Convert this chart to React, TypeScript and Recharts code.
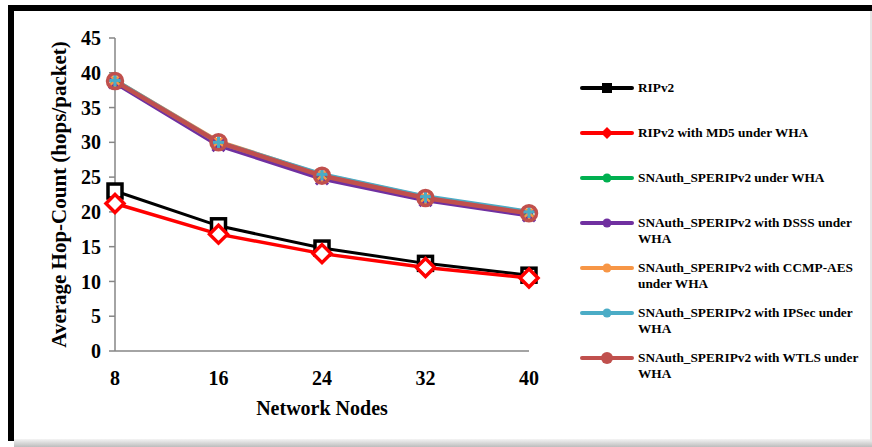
import React from "react";
import { LineChart, Line, XAxis, YAxis } from "recharts";

const nodes = [8, 16, 24, 32, 40];
const yTicks = [0, 5, 10, 15, 20, 25, 30, 35, 40, 45];

const ripv2 = [23.0, 18.0, 14.8, 12.6, 10.9];
const ripv2Md5 = [21.2, 16.8, 14.0, 12.0, 10.5];
const snauth = [38.8, 29.9, 25.2, 22.0, 19.8];
const snauthDsss = [38.6, 29.6, 24.8, 21.7, 19.5];
const snauthCcmp = [38.9, 30.1, 25.3, 22.1, 19.9];
const snauthIpsec = [38.9, 30.0, 25.4, 22.2, 20.0];
const snauthWtls = [38.8, 30.0, 25.2, 22.0, 19.8];

const data = nodes.map((n, i) => ({
  n,
  ripv2: ripv2[i],
  md5: ripv2Md5[i],
  snauth: snauth[i],
  dsss: snauthDsss[i],
  ccmp: snauthCcmp[i],
  ipsec: snauthIpsec[i],
  wtls: snauthWtls[i],
}));

const FONT = "'Liberation Serif', 'Times New Roman', serif";

// marker shapes, drawn around (0,0)
const shape = (kind: string, color: string) => {
  switch (kind) {
    case "square":
      return <rect x={-7} y={-7} width={14} height={14} fill="#fff" stroke={color} strokeWidth={3.5} />;
    case "diamond":
      return <polygon points="0,-9 9,0 0,9 -9,0" fill="#fff" stroke={color} strokeWidth={3.5} />;
    case "triangle":
      return <polygon points="0,-7 7,6 -7,6" fill={color} />;
    case "x":
      return (
        <g stroke={color} strokeWidth={3}>
          <line x1={-6} y1={-6} x2={6} y2={6} />
          <line x1={-6} y1={6} x2={6} y2={-6} />
        </g>
      );
    case "star":
      return (
        <g stroke={color} strokeWidth={2.5}>
          <line x1={-6} y1={-6} x2={6} y2={6} />
          <line x1={-6} y1={6} x2={6} y2={-6} />
          <line x1={0} y1={-7} x2={0} y2={7} />
        </g>
      );
    case "plus":
      return (
        <g stroke={color} strokeWidth={3}>
          <line x1={-6} y1={0} x2={6} y2={0} />
          <line x1={0} y1={-6} x2={0} y2={6} />
        </g>
      );
    default:
      return <circle r={7.5} fill="none" stroke={color} strokeWidth={3.5} />;
  }
};

const makeDot = (kind: string, color: string) => (props: any) => {
  const { cx, cy, index } = props;
  if (cx == null || cy == null) return <g key={index} />;
  return (
    <g key={index} transform={`translate(${cx},${cy})`}>
      {shape(kind, color)}
    </g>
  );
};

const series = [
  { key: "ripv2", name: "RIPv2", color: "#000000", kind: "square", w: 3 },
  { key: "md5", name: "RIPv2 with MD5 under WHA", color: "#FF0000", kind: "diamond", w: 3.5 },
  { key: "snauth", name: "SNAuth_SPERIPv2 under WHA", color: "#00B050", kind: "triangle", w: 4.5 },
  { key: "dsss", name: "SNAuth_SPERIPv2 with DSSS under WHA", color: "#7030A0", kind: "x", w: 4.5 },
  { key: "ccmp", name: "SNAuth_SPERIPv2 with CCMP-AES under WHA", color: "#F79646", kind: "star", w: 4.5 },
  { key: "ipsec", name: "SNAuth_SPERIPv2 with IPSec under WHA", color: "#4BACC6", kind: "plus", w: 4.5 },
  { key: "wtls", name: "SNAuth_SPERIPv2 with WTLS under WHA", color: "#C0504D", kind: "circle", w: 4.5 },
];

const ChartLegend = () => (
  <div
    style={{
      position: "absolute",
      left: 580,
      top: 80,
      width: 290,
      fontFamily: FONT,
      fontWeight: "bold",
      fontSize: 13.3,
      color: "#000",
    }}
  >
    {series.map((s) => (
      <div key={s.key} style={{ height: 45, display: "flex", alignItems: "flex-start" }}>
        <svg width={58} height={16} style={{ flex: "none" }}>
          <line x1={2} y1={8} x2={52} y2={8} stroke={s.color} strokeWidth={4} strokeLinecap="round" />
          <g transform="translate(27,8)">
            {s.kind === "square" ? (
              <rect x={-5} y={-5} width={10} height={10} fill={s.color} />
            ) : s.kind === "diamond" ? (
              <polygon points="0,-6 6,0 0,6 -6,0" fill={s.color} />
            ) : s.kind === "circle" ? (
              <circle r={6} fill={s.color} />
            ) : (
              <circle r={4.5} fill={s.color} />
            )}
          </g>
        </svg>
        <span style={{ width: 228, lineHeight: "16px" }}>{s.name}</span>
      </div>
    ))}
  </div>
);

export default function App() {
  return (
    <div style={{ position: "absolute", left: 0, top: 0, width: 872, height: 447, background: "#fff", overflow: "hidden" }}>
      <div
        style={{
          position: "absolute",
          left: 8,
          top: 5,
          width: 870,
          height: 436,
          borderTop: "6px solid #000",
          borderLeft: "6px solid #000",
          boxSizing: "border-box",
        }}
      />
      <div
        style={{
          position: "absolute",
          left: 14,
          top: 439,
          width: 858,
          height: 8,
          background: "linear-gradient(#f4f4f4, #bdbdbd)",
        }}
      />
      <div style={{ position: "absolute", left: 870, top: 11, width: 2, height: 430, background: "#e6e6e6" }} />
      <div style={{ position: "absolute", left: 0, top: 0 }}>
        <LineChart
          width={872}
          height={447}
          data={data}
          margin={{ top: 38, right: 343, bottom: 36, left: 15 }}
        >
          <XAxis
            dataKey="n"
            type="number"
            domain={[8, 40]}
            ticks={nodes}
            height={60}
            axisLine={{ stroke: "#868686", strokeWidth: 1.5 }}
            tickLine={false}
            tickMargin={14}
            tick={{ fontFamily: FONT, fontWeight: "bold", fontSize: 20, fill: "#000" }}
            label={{
              value: "Network Nodes",
              position: "insideBottom",
              offset: -4,
              style: { fontFamily: FONT, fontWeight: "bold", fontSize: 20, fill: "#000" },
            }}
          />
          <YAxis
            type="number"
            domain={[0, 45]}
            ticks={yTicks}
            width={100}
            interval={0}
            axisLine={{ stroke: "#868686", strokeWidth: 1.5 }}
            tickLine={{ stroke: "#868686", strokeWidth: 1.5 }}
            tickSize={6}
            tickMargin={8}
            tick={{ fontFamily: FONT, fontWeight: "bold", fontSize: 20, fill: "#000" }}
            label={{
              value: "Average Hop-Count (hops/packet)",
              angle: -90,
              position: "insideLeft",
              offset: 44,
              style: { textAnchor: "middle", fontFamily: FONT, fontWeight: "bold", fontSize: 21, fill: "#000" },
            }}
          />
          {series.map((s) => (
            <Line
              key={s.key}
              dataKey={s.key}
              name={s.name}
              stroke={s.color}
              strokeWidth={s.w}
              dot={makeDot(s.kind, s.color)}
              activeDot={false}
              isAnimationActive={false}
            />
          ))}
        </LineChart>
      </div>
      <ChartLegend />
    </div>
  );
}
